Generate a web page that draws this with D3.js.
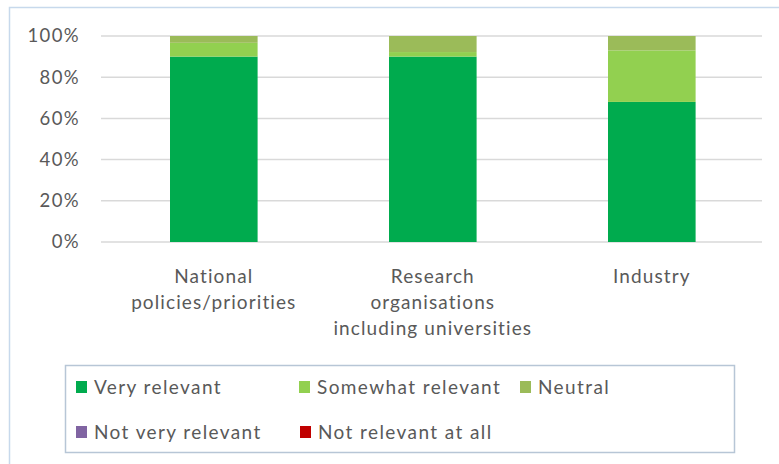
<!DOCTYPE html>
<html><head><meta charset="utf-8">
<script src="https://cdn.jsdelivr.net/npm/d3@7"></script>
<style>body{margin:0;background:#fff}svg{display:block}text{font-family:Lato,"Open Sans",sans-serif;fill:#595959}</style>
</head><body>
<svg id="c" width="779" height="464"></svg>
<script>
const categories = [["National","policies/priorities"],["Research","organisations","including universities"],["Industry"]];
const seriesNames = ["Very relevant","Somewhat relevant","Neutral","Not very relevant","Not relevant at all"];
const seriesColors = ["#00AB4E","#92D050","#9BBB59","#8064A2","#C00000"];
const veryRelevant = [90, 90, 68];
const somewhatRelevant = [6.7, 2.2, 25];
const neutral = [3.3, 7.8, 7];
const notVeryRelevant = [0, 0, 0];
const notRelevantAtAll = [0, 0, 0];
const yTicks = [0, 0.2, 0.4, 0.6, 0.8, 1];

const svg = d3.select("#c");
svg.append("rect").attr("x",9.5).attr("y",7.5).attr("width",800).attr("height",500)
  .attr("fill","#fff").attr("stroke","#c7d9ec").attr("stroke-width",1.5);

const pLeft = 101, pRight = 762, pTop = 36, pBottom = 242;
const keys = categories.map((c,i)=>"c"+i);
const x = d3.scaleBand().domain(keys).range([104.3,761.3]).paddingInner(0.6).paddingOuter(0.3);
const y = d3.scaleLinear().domain([0,1]).range([pBottom,pTop]);

// grid
svg.append("g").selectAll("line").data(yTicks).join("line")
  .attr("x1",pLeft).attr("x2",pRight).attr("y1",d=>y(d)).attr("y2",d=>y(d))
  .attr("stroke","#d9d9d9").attr("stroke-width",1.5);

const yAxis = d3.axisLeft(y).tickValues(yTicks).tickFormat(d3.format(".0%")).tickSize(0).tickPadding(21);
const ya = svg.append("g").attr("transform",`translate(${pLeft},0)`).call(yAxis);
ya.select(".domain").remove();
ya.selectAll("text").attr("font-size",18.5).attr("letter-spacing","1.4px")
  .style("font-family","Lato,sans-serif").attr("fill","#595959");

const rows = keys.map((k,i)=>({key:k, s0:veryRelevant[i]/100, s1:somewhatRelevant[i]/100, s2:neutral[i]/100, s3:notVeryRelevant[i]/100, s4:notRelevantAtAll[i]/100}));
const stack = d3.stack().keys(["s0","s1","s2","s3","s4"]);
const layers = stack(rows);
svg.append("g").selectAll("g").data(layers).join("g").attr("fill",(d,i)=>seriesColors[i])
  .selectAll("rect").data(d=>d).join("rect")
  .attr("x",d=>x(d.data.key)).attr("width",x.bandwidth())
  .attr("y",d=>y(d[1])).attr("height",d=>Math.max(0,y(d[0])-y(d[1])));

// x labels
const xl = svg.append("g");
categories.forEach((lines,i)=>{
  const cx = x(keys[i]) + x.bandwidth()/2;
  const t = xl.append("text").attr("text-anchor","middle").attr("font-size",19).attr("letter-spacing","1.1px");
  lines.forEach((ln,j)=>t.append("tspan").attr("x",cx).attr("y",283+26*j).text(ln));
});

// legend
svg.append("rect").attr("x",65.5).attr("y",365.5).attr("width",669).attr("height",87)
  .attr("fill","#fff").attr("stroke","#b7c6d6").attr("stroke-width",1.5);
const legPos = [[76,387],[299,387],[520,387],[76,432],[300,432]];
const lg = svg.append("g");
seriesNames.forEach((n,i)=>{
  const [lx,ly] = legPos[i];
  lg.append("rect").attr("x",lx).attr("y",ly-6).attr("width",11).attr("height",12).attr("fill",seriesColors[i]);
  lg.append("text").attr("x",lx+18).attr("y",ly+6.5).attr("font-size",19).attr("letter-spacing","1.4px").text(n);
});
</script>
</body></html>
